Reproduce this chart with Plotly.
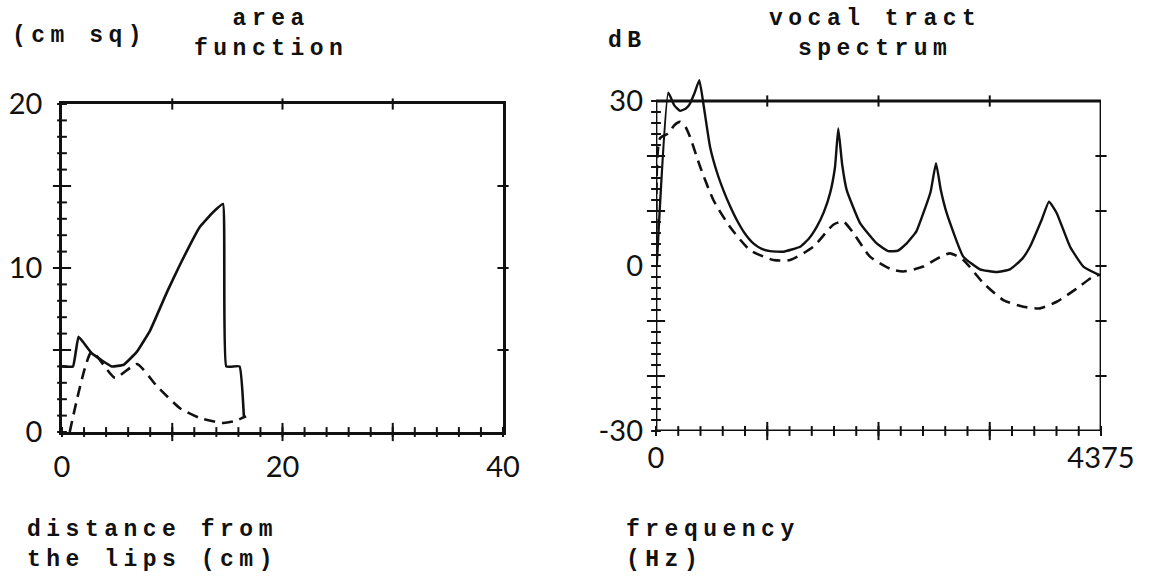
import plotly.graph_objects as go
import numpy as np

# ---------------- data ----------------
# Area function (cm^2) vs distance from the lips (cm)
area_solid_x = [0, 1.0, 1.5, 2.7, 4.5, 5.6, 6.8, 8.0, 9.5, 10.7, 12.5, 13.7, 14.6, 14.9, 16.1, 16.5]
area_solid_y = [4, 4, 5.8, 4.8, 4.0, 4.1, 4.9, 6.2, 8.5, 10.2, 12.5, 13.4, 13.9, 4.0, 4.0, 0.9]
area_dash_x = [0.7, 2.7, 4.8, 6.8, 8.6, 10.7, 12.5, 14.6, 15.6, 16.7]
area_dash_y = [0.0, 4.9, 3.3, 4.15, 2.8, 1.45, 0.85, 0.55, 0.65, 0.95]

# Vocal tract spectrum (dB) vs frequency (Hz)
spec_solid_f = [7, 121, 180, 236, 290, 327, 380, 426, 470, 531, 600, 662, 730, 793, 870, 957, 1040, 1121,
                1252, 1416, 1500, 1580, 1650, 1711, 1760, 1792, 1830, 1875, 2006, 2170, 2284, 2380, 2465,
                2560, 2628, 2700, 2753, 2800, 2858, 3021, 3185, 3349, 3480, 3600, 3677, 3792, 3864, 3940,
                4071, 4202, 4365]
spec_solid_db = [0, 31.5, 29.2, 28.2, 28.6, 29.3, 31.5, 33.8, 29.0, 21.7, 17.0, 13.8, 10.8, 8.4, 6.0, 4.1, 3.1, 2.7,
                 2.6, 3.5, 4.9, 7.1, 9.8, 13.2, 18.0, 25.0, 18.5, 13.8, 7.8, 4.1, 2.7, 2.8, 4.1,
                 6.3, 9.6, 13.5, 18.7, 13.8, 9.6, 1.7, -0.6, -1.1, -0.6, 1.3, 3.5, 8.4, 11.7, 9.6,
                 3.5, -0.1, -1.7]
spec_dash_f = [7, 39, 121, 180, 236, 290, 334, 433, 564, 728, 924, 1153, 1318, 1547, 1743, 1841, 1940,
               2104, 2301, 2431, 2628, 2760, 2890, 3021, 3218, 3415, 3611, 3775, 3940, 4136, 4300, 4365]
spec_dash_db = [0, 23.2, 24.1, 25.6, 26.2, 25.3, 23.5, 18.1, 12.0, 7.1, 2.9, 1.1, 1.1, 3.5, 7.5, 8.1, 6.0,
                1.7, -0.5, -1.0, -0.1, 1.3, 2.3, 1.1, -3.1, -6.2, -7.4, -7.7, -6.5, -4.1, -1.9, -1.6]

# axis limits and tick labels
area_xlim = [0, 40]
area_ylim = [0, 20]
spec_xlim = [0, 4375]
spec_ylim = [-30, 30]
spec_ytop = 36  # headroom so the first peak can rise above the frame
area_xticks = [0, 20, 40]
area_yticks = [0, 10, 20]
spec_xticks = [0, 4375]
spec_xticktext = ["0", "4375"]
spec_yticks = [-30, 0, 30]
spec_yticktext = ["-30", "0", "30"]

# tick-mark positions
area_x_minor = list(np.arange(0, 40.01, 2))
area_x_major = [10, 20, 30]
area_y_minor = list(np.arange(0, 20.01, 1))
area_y_major = [5, 10, 15]
spec_x_minor = list(np.arange(0, 4375.01, 4375 / 20))
spec_x_major = [4375 / 4, 4375 / 2, 3 * 4375 / 4]
spec_y_minor = list(np.arange(-30, 30.01, 2))
spec_y_major = [-20, -10, 10, 20]
spec_y_right = [-20, -10, 0, 10, 20]

INK = "#111111"
TYPE_FONT = "Liberation Mono"
NUM_FONT = "Lato"

fig = go.Figure()

# ---- curves ----
fig.add_trace(go.Scatter(x=area_solid_x, y=area_solid_y, mode="lines",
                         line=dict(color=INK, width=2.6, shape="spline", smoothing=0.3),
                         xaxis="x", yaxis="y"))
fig.add_trace(go.Scatter(x=area_dash_x, y=area_dash_y, mode="lines",
                         line=dict(color=INK, width=2.6, dash="11px,7px", shape="spline", smoothing=0.5),
                         xaxis="x", yaxis="y"))
fig.add_trace(go.Scatter(x=spec_solid_f, y=spec_solid_db, mode="lines",
                         line=dict(color=INK, width=2.4, shape="spline", smoothing=0.4),
                         xaxis="x2", yaxis="y2"))
fig.add_trace(go.Scatter(x=spec_dash_f, y=spec_dash_db, mode="lines",
                         line=dict(color=INK, width=2.6, dash="11px,7px", shape="spline", smoothing=0.6),
                         xaxis="x2", yaxis="y2"))


def ticks(xs, ys, sym, size, xa, ya):
    fig.add_trace(go.Scatter(x=xs, y=ys, mode="markers", cliponaxis=False,
                             marker=dict(symbol=sym, size=size, color=INK,
                                         line=dict(color=INK, width=2)),
                             xaxis=xa, yaxis=ya))


# ---- tick marks, left panel ----
ticks([0] * len(area_y_minor), area_y_minor, "line-ew", 7, "x", "y")
ticks([0] * len(area_y_major), area_y_major, "line-ew", 13, "x", "y")
ticks(area_x_minor, [0] * len(area_x_minor), "line-ns", 7, "x", "y")
ticks(area_x_major, [0] * len(area_x_major), "line-ns", 13, "x", "y")
ticks(area_x_major, [area_ylim[1]] * 3, "line-ns", 8, "x", "y")
ticks([area_xlim[1]] * 3, area_y_major, "line-ew", 8, "x", "y")
# ---- tick marks, right panel ----
ticks([0] * len(spec_y_minor), spec_y_minor, "line-ew", 7, "x2", "y2")
ticks([0] * len(spec_y_major), spec_y_major, "line-ew", 13, "x2", "y2")
ticks(spec_x_minor, [spec_ylim[0]] * len(spec_x_minor), "line-ns", 7, "x2", "y2")
ticks(spec_x_major, [spec_ylim[0]] * len(spec_x_major), "line-ns", 13, "x2", "y2")
ticks(spec_x_major, [spec_ylim[1]] * len(spec_x_major), "line-ns", 8, "x2", "y2")
ticks([spec_xlim[1]] * len(spec_y_right), spec_y_right, "line-ew", 8, "x2", "y2")

# frame of the spectrum panel (top is below the axis range top)
fig.add_shape(type="rect", xref="x2", yref="y2", x0=spec_xlim[0], x1=spec_xlim[1],
              y0=spec_ylim[0], y1=spec_ylim[1], line=dict(color=INK, width=2.8),
              fillcolor="rgba(0,0,0,0)", layer="above")

tickfont = dict(family=NUM_FONT, size=29, color=INK)
fig.update_layout(
    width=1151, height=586,
    margin=dict(l=0, r=0, t=0, b=0),
    paper_bgcolor="white", plot_bgcolor="white",
    showlegend=False,
    xaxis=dict(domain=[62 / 1151, 503 / 1151], range=area_xlim, showgrid=False, zeroline=False,
               showline=True, mirror=True, linecolor=INK, linewidth=2.8, ticks="", automargin=False,
               tickvals=area_xticks, tickfont=tickfont, ticklabelstandoff=7, anchor="y"),
    yaxis=dict(domain=[154 / 586, 482 / 586], range=area_ylim, showgrid=False, zeroline=False,
               showline=True, mirror=True, linecolor=INK, linewidth=2.8, ticks="", automargin=False,
               tickvals=area_yticks, tickfont=tickfont, ticklabelstandoff=11, anchor="x"),
    xaxis2=dict(domain=[656 / 1151, 1101 / 1151], range=spec_xlim, showgrid=False, zeroline=False,
                showline=False, ticks="", tickvals=spec_xticks, ticktext=spec_xticktext, automargin=False,
                tickfont=tickfont, ticklabelstandoff=7, anchor="y2"),
    yaxis2=dict(domain=[155 / 586, 518 / 586], range=[spec_ylim[0], spec_ytop], showgrid=False,
                zeroline=False, showline=False, ticks="", tickvals=spec_yticks, automargin=False,
                ticktext=spec_yticktext, tickfont=tickfont, ticklabelstandoff=12, anchor="x2"),
)

SP = '<span style="letter-spacing:5.5px">'


def label(lines, x, y, xanchor="center"):
    text = "<br>".join("<b>" + SP + ln + "</span></b>" for ln in lines)
    fig.add_annotation(text=text, align=xanchor if xanchor != "center" else "center",
                       x=x / 1151, y=1 - y / 586, xref="paper", yref="paper",
                       xanchor=xanchor, yanchor="middle", showarrow=False,
                       font=dict(family=TYPE_FONT, size=23, color=INK))


label(["(cm sq)"], 10, 36, "left")
label(["area", "function"], 271, 34)
label(["dB"], 606, 41, "left")
label(["vocal tract", "spectrum"], 875, 34)
label(["distance from", "the lips (cm)"], 25, 545, "left")
label(["frequency", "(Hz)"], 624, 545, "left")

fig.write_html("out.html")
